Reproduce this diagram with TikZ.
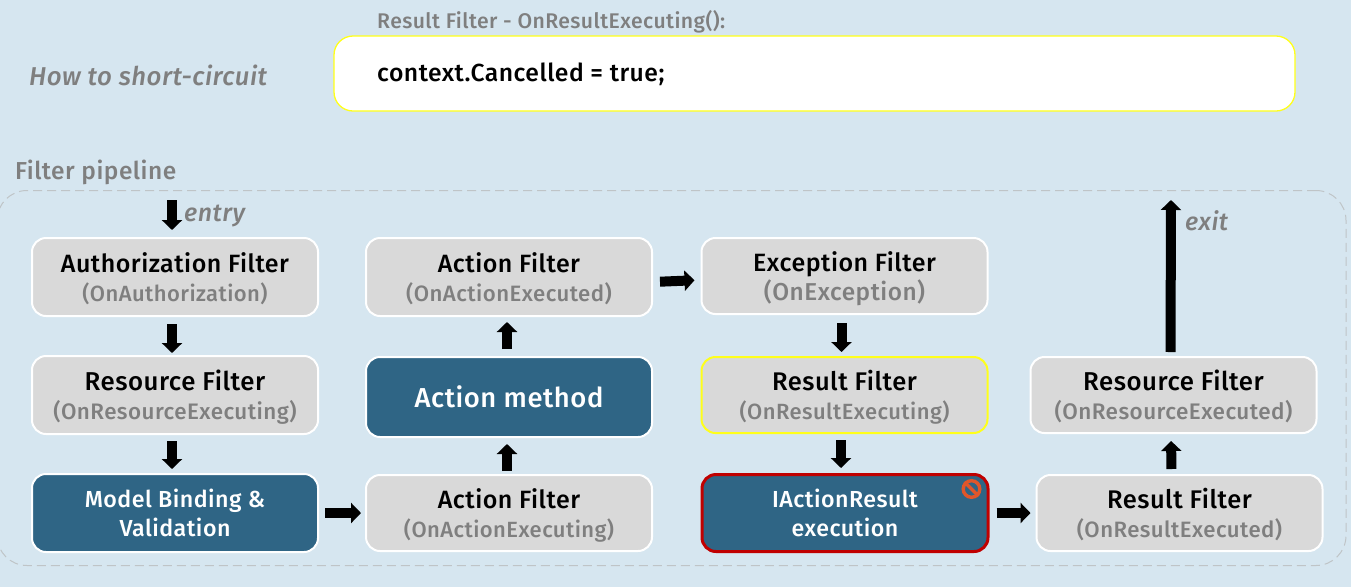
\documentclass[tikz,border=0pt]{standalone}
\usepackage{fontspec}
\setmainfont{Fira Sans}[UprightFont={* Medium},ItalicFont={* Medium Italic},BoldFont={* SemiBold},LetterSpace=2.0]
\usetikzlibrary{arrows.meta,positioning}
\definecolor{bg}{HTML}{D6E6F0}
\definecolor{boxgray}{HTML}{D9D9D9}
\definecolor{teal}{HTML}{2F6585}
\definecolor{txtgray}{HTML}{7F7F7F}
\definecolor{dashc}{HTML}{BFC4C7}
\definecolor{stopc}{HTML}{E0562A}
\definecolor{redb}{HTML}{C00000}
\definecolor{yel}{HTML}{FFFF1A}
\newcommand{\sub}[2][22]{{\fontsize{#1}{24}\selectfont\color{txtgray}#2}}
\newcommand{\ttl}[2][25]{{\fontsize{#1}{29}\selectfont #2}}
\tikzset{
 x=1pt,y=-1pt,
 base/.style={rounded corners=14pt,minimum width=286pt,minimum height=78pt,align=center,line width=2pt,inner sep=0pt,font=\fontsize{23.2}{29}\selectfont,text depth=0pt,execute at begin node={\rule{0pt}{21pt}}},
 gray box/.style={base,draw=white,fill=boxgray,text=black},
 teal box/.style={base,draw=white,fill=teal,text=white},
 flow/.style={line width=10pt,-{Triangle[width=20pt,length=10pt]},black},
 label/.style={inner sep=0pt,anchor=base west,text=txtgray},
}
\begin{document}
\begin{tikzpicture}
\useasboundingbox (0,0) rectangle (1351,587);
\fill[bg] (0,0) rectangle (1351,587);
\clip (0,0) rectangle (1351,587);
% top
\node[label,font=\fontsize{21.2}{24}\selectfont] (rftitle) at (377,28) {Result Filter - OnResultExecuting():};
\node[draw=yel,fill=white,line width=1.3pt,rounded corners=19pt,minimum width=961pt,minimum height=75pt,inner sep=0pt] (code) at (814.5,73.5) {};
\node[inner sep=0pt,anchor=base west,font=\fontsize{24.7}{29}\selectfont,text=black] (codetxt) at (377,81) {context.Cancelled = true;};
\node[label,font=\itshape\fontsize{25.8}{30}\selectfont] (how) at (29,85) {How to short-circuit};
\node[label,font=\fontsize{24.5}{29}\selectfont] (fp) at (15,179) {Filter pipeline};
% container
\node[draw=dashc,dashed,dash pattern=on 9pt off 5pt,line width=1pt,rounded corners=30pt,minimum width=1349pt,minimum height=375pt,inner sep=0pt] (pipe) at (671.5,378) {};
% boxes
\node[gray box] (auth) at (175,277) {\ttl{Authorization Filter}\\\sub[22]{(OnAuthorization)}};
\node[gray box] (res1) at (175,395) {\ttl[25.8]{Resource Filter}\\\sub[22.4]{(OnResourceExecuting)}};
\node[teal box] (model) at (175,513) {Model Binding \&\\Validation};
\node[gray box] (af2) at (509,277) {\ttl{Action Filter}\\\sub[22.2]{(OnActionExecuted)}};
\node[teal box,minimum height=80pt,font=\fontsize{27.4}{33}\selectfont] (am) at (509,397) {Action method};
\node[gray box,minimum height=76pt] (af1) at (509,513) {\ttl{Action Filter}\\\sub{(OnActionExecuting)}};
\node[gray box,minimum height=76pt] (exc) at (844.5,276) {\ttl{Exception Filter}\\\sub[24.4]{(OnException)}};
\node[gray box,draw=yel,minimum height=76pt] (rf1) at (844.5,395) {\ttl[25.5]{Result Filter}\\\sub{(OnResultExecuting)}};
\node[teal box,draw=redb,line width=3pt,minimum height=77pt] (iar) at (845,513) {IActionResult\\execution};
\node[gray box,minimum height=76pt] (res2) at (1173.5,395) {\ttl[25.8]{Resource Filter}\\\sub[22.5]{(OnResourceExecuted)}};
\node[gray box,minimum height=76pt] (rf2) at (1179.5,513) {\ttl[25.5]{Result Filter}\\\sub[22.2]{(OnResultExecuted)}};
% stop icon
\node[circle,draw=stopc,line width=3.4pt,minimum size=16.6pt,inner sep=0pt] (stop) at (971.5,489) {};
\draw[stopc,line width=3.4pt] (stop.north west) -- (stop.south east);
% labels
\coordinate (entrytop) at (172,193);
\coordinate (exittop) at (1171,193);
\node[label,font=\itshape\fontsize{25}{29}\selectfont] (entry) at (184,221) {entry};
\node[label,font=\itshape\fontsize{25}{29}\selectfont] (exit) at (1185,230) {exit};
% connectors
\draw[flow,shorten <=7pt,shorten >=7pt] (entrytop) -- ([xshift=-3pt]auth.north);
\draw[flow,shorten <=7pt,shorten >=2pt] ([xshift=-3pt]auth.south) -- ([xshift=-3pt]res1.north);
\draw[flow,shorten <=6pt,shorten >=4pt] ([xshift=-3pt]res1.south) -- ([xshift=-3pt]model.north);
\draw[flow,shorten <=6pt,shorten >=4pt] (model.east) -- (af1.west);
\draw[flow,shorten <=3pt,shorten >=6pt] ([xshift=-2pt]af1.north) -- ([xshift=-2pt]am.south);
\draw[flow,shorten <=7pt,shorten >=5pt] ([xshift=-2pt]am.north) -- ([xshift=-2pt]af2.south);
\draw[flow,shorten <=7pt,shorten >=6pt] ([yshift=-5pt]af2.east) -- ([yshift=-4pt]exc.west);
\draw[flow,shorten <=8pt,shorten >=4pt] ([xshift=-3pt]exc.south) -- ([xshift=-3pt]rf1.north);
\draw[flow,shorten <=6pt,shorten >=5pt] ([xshift=-3.5pt]rf1.south) -- ([xshift=-4pt]iar.north);
\draw[flow,shorten <=7pt,shorten >=5pt] (iar.east) -- (rf2.west);
\draw[flow,shorten <=4pt,shorten >=7pt] ([xshift=-3pt]res2.north) -- (exittop);
\draw[flow,shorten <=5pt,shorten >=7pt] ([xshift=-8pt]rf2.north) -- ([xshift=-2.5pt]res2.south);
\end{tikzpicture}
\end{document}
